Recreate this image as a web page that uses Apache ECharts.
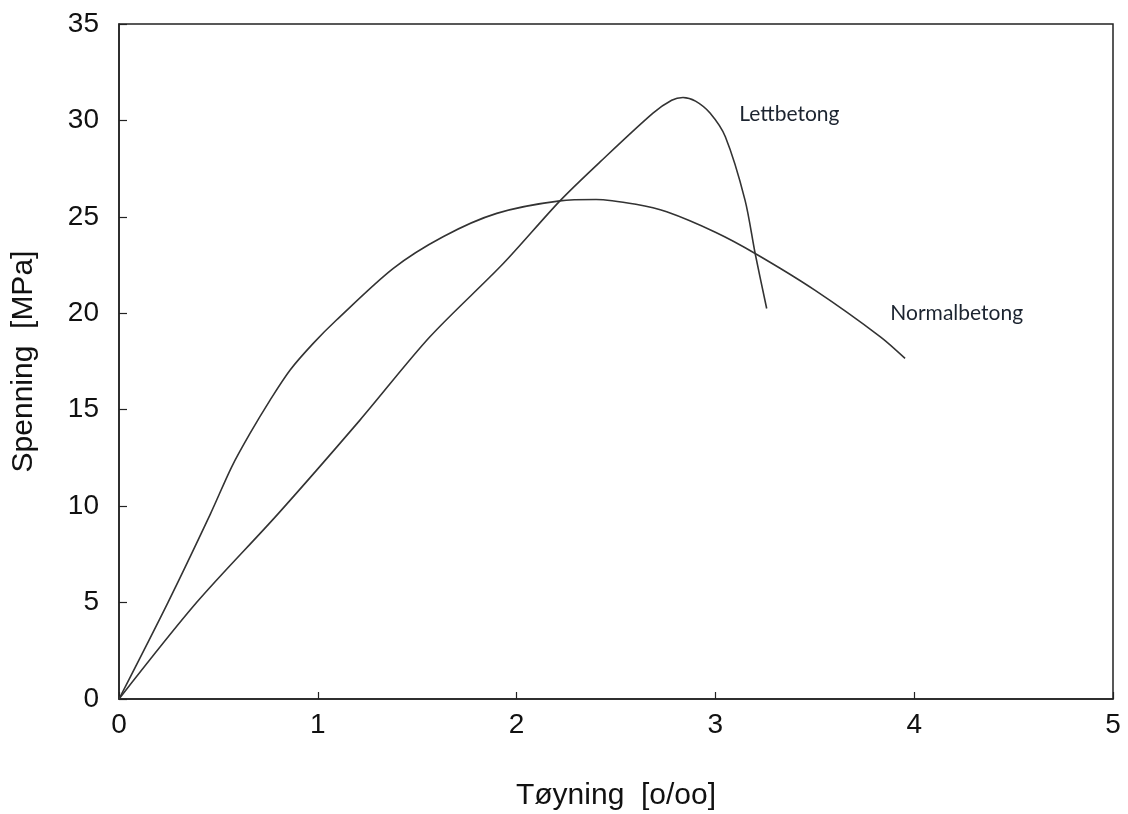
<!DOCTYPE html>
<html>
<head>
<meta charset="utf-8">
<script src="https://cdn.jsdelivr.net/npm/echarts@6/dist/echarts.min.js"></script>
<style>
  html, body { margin: 0; padding: 0; background: #fff; }
  #chart { width: 1128px; height: 814px; }
</style>
</head>
<body>
<div id="chart"></div>
<script>
// Stress–strain curves for normal-weight and lightweight concrete
const xTicks = [0, 1, 2, 3, 4, 5];
const yTicks = [0, 5, 10, 15, 20, 25, 30, 35];

const normalName = 'Normalbetong';
const normalData = [
  [0, 0], [0.246, 5], [0.46, 9.6], [0.567, 12.04], [0.659, 13.77], [0.76, 15.5],
  [0.86, 17.05], [0.977, 18.44], [1.094, 19.65], [1.38, 22.33], [1.63, 23.97],
  [1.90, 25.18], [2.218, 25.83], [2.4, 25.9], [2.6, 25.65], [2.755, 25.26],
  [3.0, 24.2], [3.2, 23.1], [3.5, 21.2], [3.83, 18.78], [3.954, 17.66]
];

const lettName = 'Lettbetong';
const lettData = [
  [0, 0], [0.39, 5], [0.8, 9.6], [1.212, 14.46], [1.564, 18.78], [1.933, 22.58],
  [2.218, 25.83], [2.42, 27.85], [2.686, 30.38], [2.78, 31.05], [2.837, 31.19],
  [2.9, 31.0], [2.973, 30.38], [3.05, 29.15], [3.149, 25.87], [3.2, 23.1], [3.258, 20.25]
];

// where each curve name is written, in data units
const lettLabelAt = [3.12, 30.33];
const normalLabelAt = [3.88, 20.0];

const lineColor = '#333';
const axisFont = 'Liberation Sans, Arial, sans-serif';
const noteFont = 'Lato, "Open Sans", sans-serif';

const chart = echarts.init(document.getElementById('chart'));

function curve(name, data, labelAt) {
  return {
    name: name,
    type: 'line',
    data: data,
    smooth: 0.3,
    showSymbol: false,
    lineStyle: { color: lineColor, width: 1.6 },
    animation: false,
    markPoint: {
      symbolSize: 0,
      animation: false,
      data: [{ coord: labelAt, value: name }],
      label: {
        show: true,
        position: 'right',
        distance: 0,
        formatter: name,
        color: '#1c2430',
        fontFamily: noteFont,
        fontSize: 21
      }
    }
  };
}

chart.setOption({
  backgroundColor: '#fff',
  animation: false,
  grid: {
    left: 119, right: 15, top: 24, bottom: 115,
    outerBoundsMode: 'none',
    containLabel: false,
    show: true, borderColor: '#222', borderWidth: 1.5, backgroundColor: 'transparent'
  },
  xAxis: {
    type: 'value',
    min: xTicks[0], max: xTicks[xTicks.length - 1], interval: 1,
    name: 'Tøyning  [o/oo]',
    nameLocation: 'middle',
    nameGap: 82,
    nameTextStyle: { fontFamily: axisFont, fontSize: 30, color: '#111' },
    axisLine: { show: true, lineStyle: { color: '#222', width: 1.5 } },
    axisTick: { show: true, inside: true, length: 7, lineStyle: { color: '#222', width: 1.2 } },
    axisLabel: { fontFamily: axisFont, fontSize: 28, color: '#111', margin: 12 },
    splitLine: { show: false }
  },
  yAxis: {
    type: 'value',
    min: yTicks[0], max: yTicks[yTicks.length - 1], interval: 5,
    name: 'Spenning  [MPa]',
    nameLocation: 'middle',
    nameGap: 80,
    nameTextStyle: { fontFamily: axisFont, fontSize: 30, color: '#111' },
    axisLine: { show: true, lineStyle: { color: '#222', width: 1.5 } },
    axisTick: { show: true, inside: true, length: 8, lineStyle: { color: '#222', width: 1.2 } },
    axisLabel: { fontFamily: axisFont, fontSize: 28, color: '#111', margin: 20 },
    splitLine: { show: false }
  },
  series: [
    curve(normalName, normalData, normalLabelAt),
    curve(lettName, lettData, lettLabelAt)
  ]
});
</script>
</body>
</html>
